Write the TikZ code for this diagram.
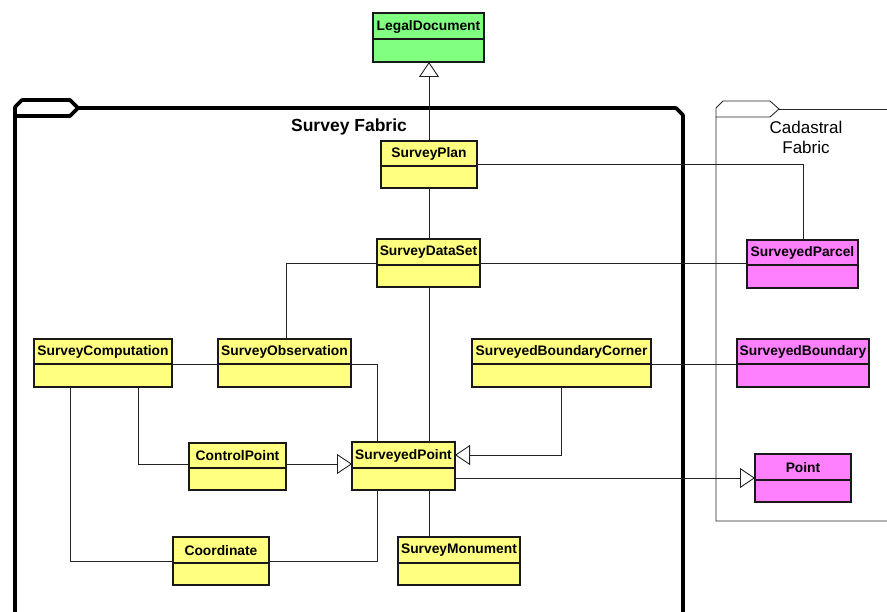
\documentclass[tikz,border=0pt]{standalone}
\usepackage{fontspec}
\setmainfont{Liberation Sans}
\usetikzlibrary{arrows.meta}

\definecolor{classyellow}{HTML}{FFFF80}
\definecolor{classgreen}{HTML}{80FF80}
\definecolor{classpink}{HTML}{FF80FF}
\definecolor{wire}{HTML}{222222}

\tikzset{
  classbox/.style={draw=black!90, line width=1.2pt, inner sep=0pt, outer sep=0pt},
  classline/.style={draw=black!90, line width=1.2pt},
  classname/.style={font=\bfseries\fontsize{13.8}{16}\selectfont, inner sep=0pt, anchor=center},
  assoc/.style={draw=wire, line width=0.9pt},
  inherit/.style={assoc, -{Triangle[open, length=15pt, width=20pt, line width=0.9pt]}},
  pkgthick/.style={draw=black, line width=3.6pt, line join=round},
  pkgthin/.style={draw=black!85, line width=0.9pt},
}

% \umlclass{name}{x1}{y1}{x2}{y2}{divider y}{fill}{label}
\newcommand\umlclass[8]{%
  \node[classbox, fill=#7, minimum width={(#4-#2)*1pt}, minimum height={(#5-#3)*1pt}]
    (#1) at ({(#2+#4)/2},{(#3+#5)/2}) {};
  \draw[classline] (#2,#6) -- (#4,#6);
  \node[classname] (#1-label) at ({(#2+#4)/2},{(#3+#6)/2+0.5}) {#8};
}

\begin{document}
\begin{tikzpicture}[x=1pt, y=-1pt]
\useasboundingbox[fill=white] (0,0) rectangle (887,612);

% Survey Fabric package frame
\draw[pkgthick] (15,625) -- (15,107) -- (22,100) -- (70,100) -- (78,108) -- (70,116) -- (15,116);
\draw[pkgthick] (78,108) -- (676,108) -- (683,115) -- (683,625);
\node[font=\bfseries\fontsize{17.5}{20}\selectfont, inner sep=0pt] (sftitle) at (349,127) {Survey Fabric};

% Cadastral Fabric package frame
\draw[pkgthin] (900,521) -- (716,521) -- (716,108) -- (723,101) -- (770,101) -- (779,109) -- (770,117) -- (716,117);
\draw[pkgthin] (779,109) -- (900,109);
\node[font=\fontsize{17}{20}\selectfont, align=center, inner sep=0pt] (cftitle) at (806,137) {Cadastral\\Fabric};

% classes
\umlclass{legal}{373}{13}{484}{62}{39}{classgreen}{LegalDocument}
\umlclass{plan}{381}{141}{477}{188}{166}{classyellow}{SurveyPlan}
\umlclass{dataset}{377}{239}{480}{287}{265}{classyellow}{SurveyDataSet}
\umlclass{comp}{34}{339}{172}{387}{364}{classyellow}{SurveyComputation}
\umlclass{obs}{218}{339}{351}{387}{364}{classyellow}{SurveyObservation}
\umlclass{sbc}{472}{339}{651}{387}{364}{classyellow}{SurveyedBoundaryCorner}
\umlclass{ctrl}{189}{443}{286}{490}{468}{classyellow}{ControlPoint}
\umlclass{spt}{352}{442}{455}{490}{468}{classyellow}{SurveyedPoint}
\umlclass{coord}{173}{537}{269}{585}{563}{classyellow}{Coordinate}
\umlclass{mon}{398}{537}{520}{585}{563}{classyellow}{SurveyMonument}
\umlclass{parcel}{747}{240}{858}{288}{265}{classpink}{SurveyedParcel}
\umlclass{sbound}{737}{339}{869}{387}{364}{classpink}{SurveyedBoundary}
\umlclass{point}{755}{454}{851}{502}{480}{classpink}{Point}

% connectors
\draw[inherit] (plan.north -| 429,0) -- (legal.south -| 429,0);
\draw[assoc] (plan.east |- 0,164) -| (parcel.north -| 803,0);
\draw[assoc] (plan.south -| 429,0) -- (dataset.north -| 429,0);
\draw[assoc] (dataset.west |- 0,263) -| (obs.north -| 286,0);
\draw[assoc] (dataset.east |- 0,263) -- (parcel.west |- 0,263);
\draw[assoc] (dataset.south -| 429,0) -- (spt.north -| 429,0);
\draw[assoc] (comp.east |- 0,364) -- (obs.west |- 0,364);
\draw[assoc] (obs.east |- 0,364) -| (spt.north -| 377,0);
\draw[assoc] (sbc.east |- 0,364) -- (sbound.west |- 0,364);
\draw[inherit] (sbc.south -| 561,0) |- (spt.east |- 0,455);
\draw[assoc] (comp.south -| 138,0) |- (ctrl.west |- 0,464);
\draw[inherit] (ctrl.east |- 0,464) -- (spt.west |- 0,464);
\draw[inherit] (spt.east |- 0,478) -- (point.west |- 0,478);
\draw[assoc] (comp.south -| 70,0) |- (coord.west |- 0,561);
\draw[assoc] (coord.east |- 0,561) -| (spt.south -| 377,0);
\draw[assoc] (spt.south -| 429,0) -- (mon.north -| 429,0);
\end{tikzpicture}
\end{document}
